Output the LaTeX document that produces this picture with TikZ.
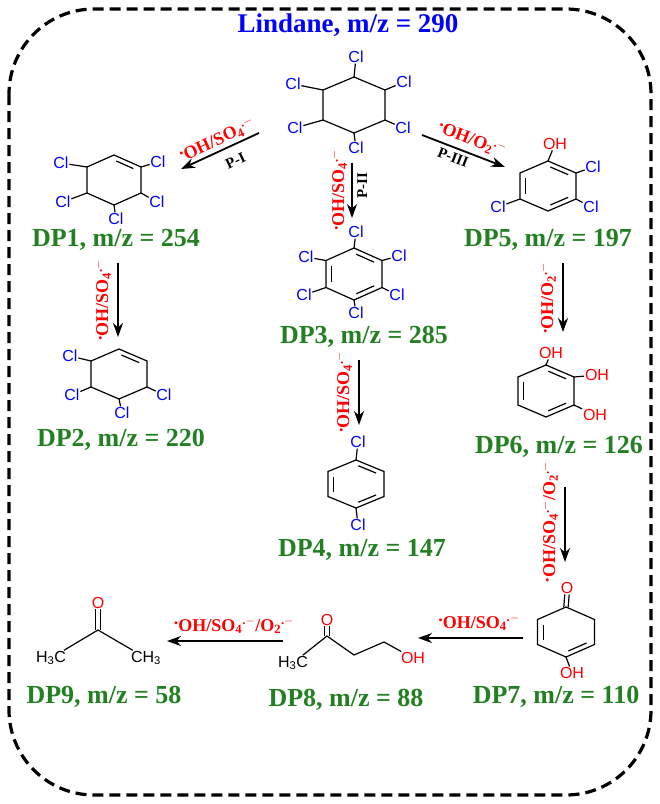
\documentclass[tikz,border=0pt]{standalone}
\usepackage{fontspec}
\setmainfont{Liberation Serif}
\newfontfamily\sansf{Liberation Sans}
\usetikzlibrary{arrows.meta,calc}
\definecolor{dpgreen}{RGB}{34,128,34}
\newcommand{\rdt}{\raisebox{0.8ex}{.}}
\newcommand{\sofour}{SO\textsubscript{4}\textsuperscript{.$-$}}
\newcommand{\otwo}{O\textsubscript{2}\textsuperscript{.$-$}}
% hexagon: prefix, cx, cy, hw, hh1, hh2
\newcommand{\hexa}[6]{%
  \coordinate (#1c) at (#2,#3);
  \coordinate (#11) at (#2,#3-#6);
  \coordinate (#12) at (#2+#4,#3-#5);
  \coordinate (#13) at (#2+#4,#3+#5);
  \coordinate (#14) at (#2,#3+#6);
  \coordinate (#15) at (#2-#4,#3+#5);
  \coordinate (#16) at (#2-#4,#3-#5);
  \draw[bond] (#11)--(#12)--(#13)--(#14)--(#15)--(#16)--cycle;}
\newcommand{\dbl}[3]{\draw[bond,shorten <=2.5pt,shorten >=2.5pt] ($(#1)!0.2!(#3)$)--($(#2)!0.2!(#3)$);}
\begin{document}
\begin{tikzpicture}[x=1pt,y=-1pt,
  bond/.style={line width=1.2pt,black},
  cl/.style={font=\sansf\fontsize{16}{16}\selectfont,text=blue,inner sep=0.6pt},
  ox/.style={font=\sansf\fontsize{16}{16}\selectfont,text=red,inner sep=0.6pt},
  blk/.style={font=\sansf\fontsize{16}{16}\selectfont,text=black,inner sep=0.6pt},
  dp/.style={font=\bfseries\fontsize{26}{26}\selectfont,text=dpgreen},
  rg/.style={font=\bfseries\fontsize{18}{18}\selectfont,text=red,inner sep=3pt},
  pl/.style={font=\bfseries\fontsize{15}{15}\selectfont,text=black,inner sep=3pt},
  arr/.style={line width=1.8pt,-{Stealth[length=14pt,width=10pt]}}]
\useasboundingbox (0,0) rectangle (660,804);
\draw[line width=3.2pt,dash pattern=on 11pt off 6pt,rounded corners=85pt] (9,9) rectangle (651,795);
\node[font=\bfseries\fontsize{27}{27}\selectfont,text=blue] (title) at (348,25) {Lindane, m/z = 290};

% Lindane
\hexa{L}{354}{105}{31}{15}{28}
\node[cl] (Lc1) at (356,57) {Cl};
\node[cl] (Lc2) at (404,82) {Cl};
\node[cl] (Lc3) at (403,128) {Cl};
\node[cl] (Lc4) at (356,148) {Cl};
\node[cl] (Lc5) at (295,128) {Cl};
\node[cl] (Lc6) at (293,84) {Cl};
\foreach \i in {1,...,6} \draw[bond] (L\i)--(Lc\i);

% DP1
\hexa{A}{114}{180}{27}{13}{25}
\dbl{A1}{A2}{Ac}
\node[cl] (Ac2) at (158,162) {Cl};
\node[cl] (Ac3) at (157,202) {Cl};
\node[cl] (Ac4) at (116,219) {Cl};
\node[cl] (Ac5) at (63,202) {Cl};
\node[cl] (Ac6) at (61,163) {Cl};
\foreach \i in {2,...,6} \draw[bond] (A\i)--(Ac\i);
\node[dp] (dp1) at (116,240) {DP1, m/z = 254};

% DP5
\hexa{E}{548}{186}{28}{13}{25}
\dbl{E1}{E2}{Ec}\dbl{E3}{E4}{Ec}\dbl{E5}{E6}{Ec}
\node[ox] (Eo1) at (555,144) {OH};
\node[cl] (Ec2) at (593,167) {Cl};
\node[cl] (Ec3) at (591,207) {Cl};
\node[cl] (Ec5) at (498,207) {Cl};
\foreach \i in {2,3,5} \draw[bond] (E\i)--(Ec\i);
\draw[bond] (E1)--(Eo1);
\node[dp] (dp5) at (548,240) {DP5, m/z = 197};

% DP3
\hexa{C}{354}{274}{28}{13.5}{26}
\dbl{C1}{C2}{Cc}\dbl{C3}{C4}{Cc}\dbl{C5}{C6}{Cc}
\node[cl] (Cc1) at (356,232) {Cl};
\node[cl] (Cc2) at (399,256) {Cl};
\node[cl] (Cc3) at (397,295) {Cl};
\node[cl] (Cc4) at (356,313) {Cl};
\node[cl] (Cc5) at (304,295) {Cl};
\node[cl] (Cc6) at (306,257) {Cl};
\foreach \i in {1,...,6} \draw[bond] (C\i)--(Cc\i);
\node[dp] (dp3) at (364,337) {DP3, m/z = 285};

% DP2
\hexa{B}{119}{374}{28}{13}{25}
\dbl{B1}{B2}{Bc}
\node[cl] (Bc6) at (70,356) {Cl};
\node[cl] (Bc3) at (164,395) {Cl};
\node[cl] (Bc4) at (122,413) {Cl};
\node[cl] (Bc5) at (72,395) {Cl};
\foreach \i in {3,...,6} \draw[bond] (B\i)--(Bc\i);
\node[dp] (dp2) at (121,440) {DP2, m/z = 220};

% DP4
\hexa{D}{356}{484}{28}{12.5}{24}
\dbl{D1}{D2}{Dc}\dbl{D3}{D4}{Dc}\dbl{D5}{D6}{Dc}
\node[cl] (Dc1) at (358,442) {Cl};
\node[cl] (Dc4) at (358,525) {Cl};
\draw[bond] (D1)--(Dc1); \draw[bond] (D4)--(Dc4);
\node[dp] (dp4) at (362,550) {DP4, m/z = 147};

% DP6
\hexa{F}{546}{391}{28}{14}{26}
\dbl{F1}{F2}{Fc}\dbl{F3}{F4}{Fc}\dbl{F5}{F6}{Fc}
\node[ox] (Fo1) at (551,353) {OH};
\node[ox] (Fo2) at (597,375) {OH};
\node[ox] (Fo3) at (595,415) {OH};
\foreach \i in {1,2,3} \draw[bond] (F\i)--(Fo\i);
\node[dp] (dp6) at (559,447) {DP6, m/z = 126};

% DP7
\hexa{G}{566}{632}{28.5}{12.5}{25}
\dbl{G5}{G6}{Gc}\dbl{G3}{G4}{Gc}
\node[ox] (Go1) at (567,588) {O};
\node[ox] (Go4) at (572,673) {OH};
\draw[bond] ($(G1)+(-2.2,0)$)--($(Go1.south)+(-2.2,0)$);
\draw[bond] ($(G1)+(2.2,0)$)--($(Go1.south)+(2.2,0)$);
\draw[bond] (G4)--(Go4);
\node[dp] (dp7) at (556,697) {DP7, m/z = 110};

% DP8
\node[ox] (Ho) at (327,620) {O};
\coordinate (Hc) at (327,636);
\node[blk] (Hme) at (293,663) {H\textsubscript{3}C};
\coordinate (Hk1) at (354,655);
\coordinate (Hk2) at (384,642);
\node[ox] (Hoh) at (413,658) {OH};
\draw[bond] (Hme)--(Hc)--(Hk1)--(Hk2)--(Hoh);
\draw[bond] ($(Hc)+(-2.2,0)$)--($(Ho.south)+(-2.2,0)$);
\draw[bond] ($(Hc)+(2.2,0)$)--($(Ho.south)+(2.2,0)$);
\node[dp] (dp8) at (346,700) {DP8, m/z = 88};

% DP9
\node[ox] (Io) at (98,603) {O};
\coordinate (Ic) at (98,630);
\node[blk] (Ia) at (51,658) {H\textsubscript{3}C};
\node[blk] (Ib) at (146,658) {CH\textsubscript{3}};
\draw[bond] (Ia)--(Ic)--(Ib);
\draw[bond] ($(Ic)+(-2.2,0)$)--($(Io.south)+(-2.2,0)$);
\draw[bond] ($(Ic)+(2.2,0)$)--($(Io.south)+(2.2,0)$);
\node[dp] (dp9) at (104,697) {DP9, m/z = 58};

% Arrows
\coordinate (p1s) at (259,133); \coordinate (p1e) at (181,169);
\draw[arr] (p1s)--(p1e);
\node[rg,rotate=25,anchor=south] (r1) at (222,150) {\rdt OH/\sofour};
\node[pl,rotate=25,anchor=north] (P1) at (232,153) {P-I};

\coordinate (p2s) at (352,163); \coordinate (p2e) at (352,218);
\draw[arr] (p2s)--(p2e);
\node[rg,rotate=90,anchor=south] (r2) at (350,190) {\rdt OH/\sofour};
\node[pl,rotate=90,anchor=north] (P2) at (354,186) {P-II};

\coordinate (p3s) at (422,135); \coordinate (p3e) at (505,167);
\draw[arr] (p3s)--(p3e);
\node[rg,rotate=-21,anchor=south] (r3) at (468,150) {\rdt OH/\otwo};
\node[pl,rotate=-21,anchor=north] (P3) at (456,150) {P-III};

\coordinate (a12s) at (118,263); \coordinate (a12e) at (118,337);
\draw[arr] (a12s)--(a12e);
\node[rg,rotate=90,anchor=south] (r12) at (114,300) {\rdt OH/\sofour};

\coordinate (a34s) at (359,360); \coordinate (a34e) at (359,425);
\draw[arr] (a34s)--(a34e);
\node[rg,rotate=90,anchor=south] (r34) at (355,392) {\rdt OH/\sofour};

\coordinate (a56s) at (563,263); \coordinate (a56e) at (563,332);
\draw[arr] (a56s)--(a56e);
\node[rg,rotate=90,anchor=south] (r56) at (559,298) {\rdt OH/\otwo};

\coordinate (a67s) at (565,487); \coordinate (a67e) at (565,562);
\draw[arr] (a67s)--(a67e);
\node[rg,rotate=90,anchor=south] (r67) at (561,522) {\rdt OH/\sofour/\otwo};

\coordinate (a78s) at (523,638); \coordinate (a78e) at (418,638);
\draw[arr] (a78s)--(a78e);
\node[rg,anchor=south] (r78) at (479,634) {\rdt OH/\sofour};

\coordinate (a89s) at (283,641); \coordinate (a89e) at (167,641);
\draw[arr] (a89s)--(a89e);
\node[rg,anchor=south] (r89) at (234,637) {\rdt OH/\sofour/\otwo};
\end{tikzpicture}
\end{document}
